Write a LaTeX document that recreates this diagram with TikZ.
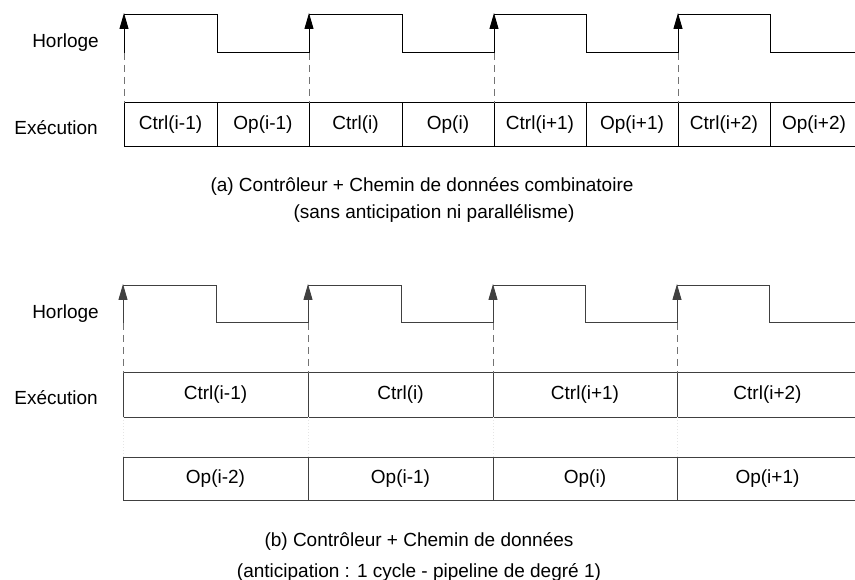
\documentclass[tikz,border=0pt]{standalone}
\usepackage{fontspec}
\setmainfont{Liberation Sans}
\usetikzlibrary{arrows.meta}

\begin{document}
\begin{tikzpicture}[x=1pt,y=-1pt,
  font=\fontsize{19}{23}\selectfont,
  wave/.style={line width=1pt, line join=miter},
  edgearrow/.style={line width=1pt, -{Triangle[length=16pt,width=9pt]}},
  guide/.style={draw=black!55, dash pattern=on 7pt off 5pt, line width=1pt},
  faint/.style={draw=black!10, dash pattern=on 1pt off 2pt, line width=0.8pt},
  cell/.style={draw, line width=1pt, minimum height=44pt, inner sep=0pt,
    outer sep=0pt, anchor=north west},
  lbl/.style={anchor=east, inner sep=0pt},
  caption/.style={inner sep=0pt},
]
\useasboundingbox (0,0) rectangle (855,580);
\begin{scope}
\clip (0,0) rectangle (855,580);

% ---------- (a) controller + combinational datapath ----------
\node[lbl] (hA) at (99,43) {Horloge};
\node[lbl] (eA) at (98,128) {Exécution};

% clock waveform
\foreach \r/\f/\n [count=\k] in {124/217/309, 309/402/494, 494/586/678, 678/770/858} {
  \coordinate (ra\k) at (\r,53);
  \draw[edgearrow] (ra\k) -- (\r,13);
  \draw[wave] (\r,15) -- (\f,15) -- (\f,53) -- (\n,53);
}

% execution row
\foreach \x/\w/\t [count=\k] in {124/93/Ctrl(i-1), 217/92/Op(i-1), 309/93/Ctrl(i), 402/92/Op(i),
    494/92/Ctrl(i+1), 586/92/Op(i+1), 678/92/Ctrl(i+2), 770/88/Op(i+2)} {
  \node[cell, minimum width=\w pt] (a\k) at (\x,103) {\t};
}

% sampling guides from the rising edges
\draw[guide] (ra1) -- (a1.north west);
\draw[guide] (ra2) -- (a3.north west);
\draw[guide] (ra3) -- (a5.north west);
\draw[guide] (ra4) -- (a7.north west);

\node[caption] (capA1) at (422,186) {(a) Contrôleur + Chemin de données combinatoire};
\node[caption] (capA2) at (434,213) {(sans anticipation ni parallélisme)};

% ---------- (b) pipelined controller + datapath ----------
\begin{scope}[black!75]
\node[lbl, text=black] (hB) at (99,314) {Horloge};
\node[lbl, text=black] (eB) at (98,398) {Exécution};

\foreach \r/\f/\n [count=\k] in {123/216/308, 308/401/493, 493/585/677, 677/769/858} {
  \coordinate (rb\k) at (\r,323);
  \draw[edgearrow] (rb\k) -- (\r,284);
  \draw[wave] (\r,286) -- (\f,286) -- (\f,323) -- (\n,323);
}

\foreach \x/\w/\t [count=\k] in {123/185/Ctrl(i-1), 308/185/Ctrl(i), 493/184/Ctrl(i+1), 677/181/Ctrl(i+2)} {
  \node[cell, minimum width=\w pt, text=black] (c\k) at (\x,373) {\t};
}
\foreach \x/\w/\t [count=\k] in {123/185/Op(i-2), 308/185/Op(i-1), 493/184/Op(i), 677/181/Op(i+1)} {
  \node[cell, minimum width=\w pt, minimum height=43pt, text=black] (o\k) at (\x,457) {\t};
}

\foreach \k in {1,...,4} {
  \draw[guide] (rb\k) -- (c\k.north west);
  \draw[faint] (c\k.south west) -- (o\k.north west);
}
\end{scope}

\node[caption] (capB1) at (419,541) {(b) Contrôleur + Chemin de données};
\node[caption] (capB2) at (419,572) {(anticipation : 1 cycle - pipeline de degré 1)};
\end{scope}
\end{tikzpicture}
\end{document}
